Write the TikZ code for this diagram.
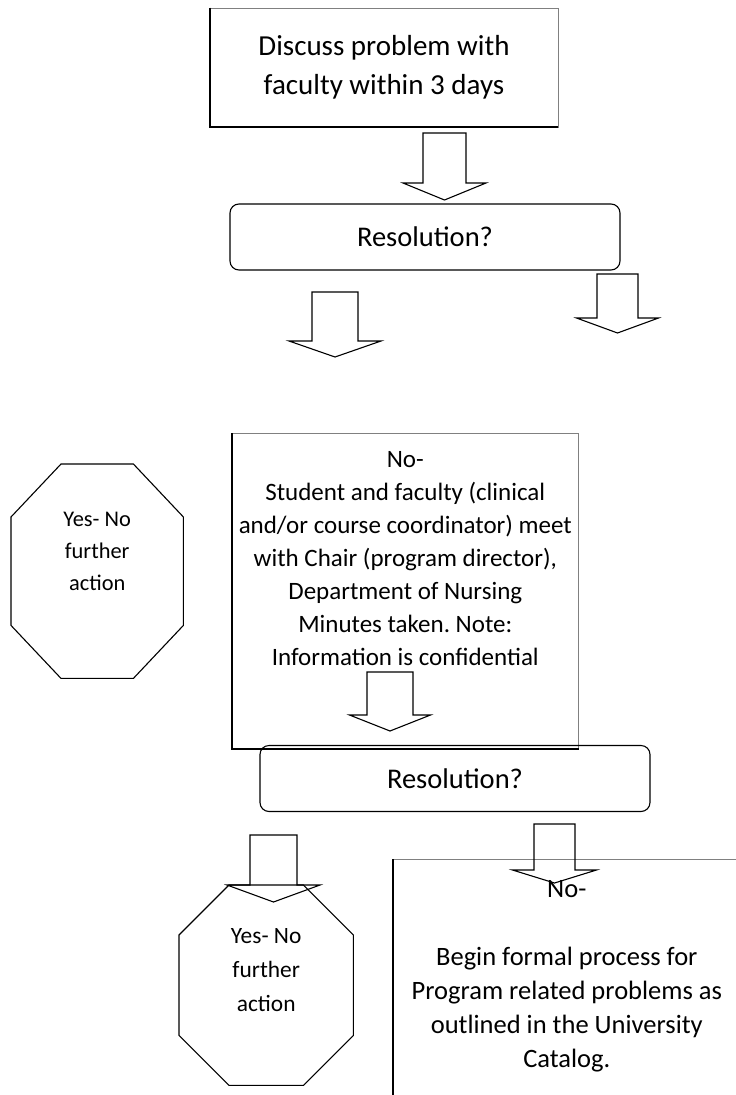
\documentclass[tikz,border=0pt]{standalone}
\usepackage{fontspec}
\setmainfont{Carlito}
\frenchspacing

\tikzset{
    framebox/.style={draw=black!50,line width=0.6pt,inner sep=0pt},
    edgeline/.style={line width=1.8pt},
    askbox/.style={draw,line width=1.1pt,rounded corners=9pt,minimum width=390pt,minimum height=66pt,font=\fontsize{28.5}{34}\selectfont},
    stopbox/.style={inner sep=0pt},
    stopline/.style={line width=1.1pt},
    arrowline/.style={line width=1.1pt,line join=miter},
    pics/downarrow/.style args={#1/#2/#3/#4}{code={
        \draw[arrowline] (-#1,0) -- (#1,0) -- (#1,#2) -- (#3,#2) -- (0,#2+#4) -- (-#3,#2) -- (-#1,#2) -- cycle;
    }}
}

\newcommand\stopoutline[3]{%
    \draw[stopline] ([xshift=#2]#1.north west) -- ([xshift=-#2]#1.north east) -- ([yshift=-#3]#1.north east)
        -- ([yshift=#3]#1.south east) -- ([xshift=-#2]#1.south east) -- ([xshift=#2]#1.south west)
        -- ([yshift=#3]#1.south west) -- ([yshift=-#3]#1.north west) -- cycle;}

\begin{document}
\begin{tikzpicture}[x=1pt,y=-1pt]
        \useasboundingbox (0,0) rectangle (736,1095);
        \clip (0,0) rectangle (736,1095);

        \node[framebox,minimum width=348pt,minimum height=119pt,align=center,font=\fontsize{29}{39}\selectfont] (discuss) at (384,67.5) {Discuss problem with\\faculty within 3 days};
        \node[askbox] (res1) at (425,237) {Resolution?};
        \node[stopbox,anchor=north west] (yes1) at (11,464) {\parbox[c][214pt][t]{172pt}{\centering\fontsize{22.4}{32}\selectfont\vspace*{48pt}Yes- No\\further\\action}};
        \node[framebox,anchor=north west] (meet) at (232,433) {\parbox[c][315pt][t]{346pt}{\centering\fontsize{25}{33}\selectfont\vspace*{18pt}No-\\Student and faculty (clinical\\and/or course coordinator) meet\\with Chair (program director),\\Department of Nursing\\Minutes taken. Note:\\Information is confidential}};
        \node[askbox] (res2) at (455,778.5) {Resolution?};
        \node[stopbox,anchor=north west] (yes2) at (179,885) {\parbox[c][200pt][t]{174pt}{\centering\fontsize{23.4}{34}\selectfont\vspace*{43pt}Yes- No\\further\\action}};
        \node[framebox,anchor=north west] (formal) at (393,859) {\parbox[c][315pt][t]{347pt}{\centering\fontsize{26.5}{34}\selectfont\vspace*{21pt}No-\\[34pt]Begin formal process for\\Program related problems as\\outlined in the University\\Catalog.}};

        \draw[edgeline] (discuss.north west) -- (discuss.south west) -- (discuss.south east);
        \draw[edgeline] (meet.north west) -- (meet.south west) -- (meet.south east);
        \draw[edgeline] (formal.north west) -- (formal.south west) -- (formal.south east);
        \stopoutline{yes1}{50pt}{53pt}
        \stopoutline{yes2}{50pt}{50pt}

        \pic at (444.5,133) {downarrow=21.5/50/41.5/17};
        \pic at (335,292)   {downarrow=23/49/46/16};
        \pic at (617.5,274) {downarrow=20.5/44/41/15};
        \pic at (390,672)   {downarrow=23/43/40.5/16};
        \pic at (273.5,835) {downarrow=23.5/50/46.5/17};
        \pic at (554.5,824) {downarrow=20.5/46/42/13};
    \end{tikzpicture}
\end{document}
